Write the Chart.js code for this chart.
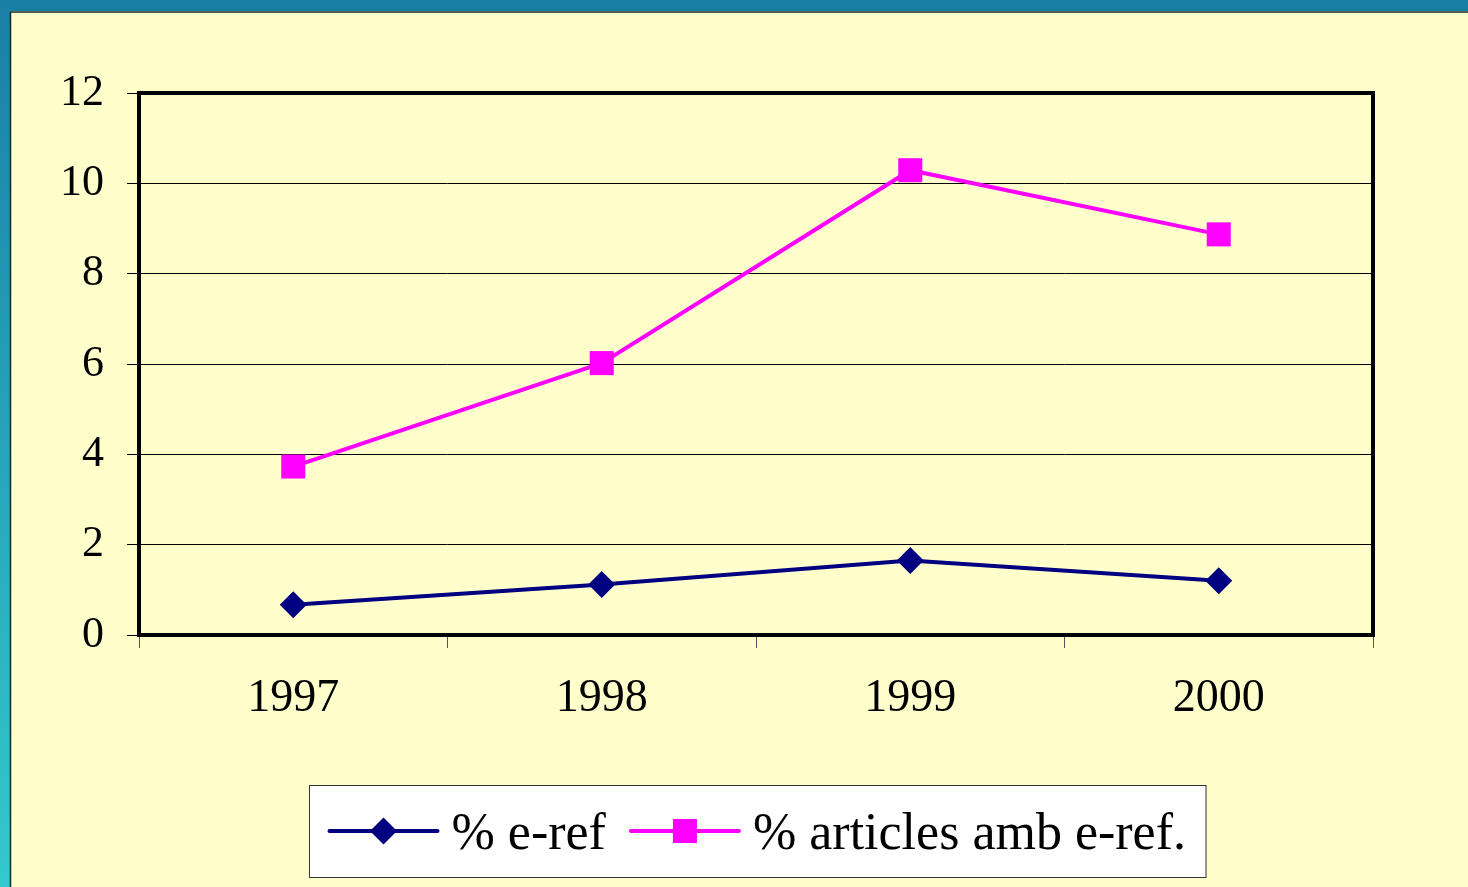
<!DOCTYPE html>
<html>
<head>
<meta charset="utf-8">
<title>% e-ref</title>
<script src="https://cdn.jsdelivr.net/npm/chart.js@4.4.1/dist/chart.umd.min.js"></script>
<style>
  html, body { margin: 0; padding: 0; background: #ffffcc; overflow: hidden; }
  canvas { display: block; }
</style>
</head>
<body>
<canvas id="eRefChart" width="1468" height="887"></canvas>
<script>
  // values
  const years = ['1997', '1998', '1999', '2000'];
  const eRef = [0.67, 1.12, 1.65, 1.20];
  const articlesERef = [3.73, 6.02, 10.29, 8.87];
  const yMin = 0, yMax = 12, yStep = 2;

  const serif = '"Liberation Serif", "Times New Roman", serif';

  // blue frame + yellow slide background
  const slideFrame = {
    id: 'slideFrame',
    beforeDraw(chart) {
      const ctx = chart.ctx;
      const w = chart.width, h = chart.height;
      ctx.save();
      ctx.fillStyle = '#ffffcc';
      ctx.fillRect(0, 0, w, h);
      ctx.fillStyle = '#1a7fa5';
      ctx.fillRect(0, 0, w, 11);
      const g = ctx.createLinearGradient(0, 0, 0, h);
      g.addColorStop(0, '#1a7fa5');
      g.addColorStop(1, '#33c9cc');
      ctx.fillStyle = g;
      ctx.fillRect(0, 0, 10, h);
      ctx.strokeStyle = '#16282e';
      ctx.lineWidth = 1.5;
      ctx.beginPath();
      ctx.moveTo(10.5, h);
      ctx.lineTo(10.5, 12);
      ctx.lineTo(w, 12);
      ctx.stroke();
      ctx.restore();
    }
  };

  // thick black plot border
  const plotBorder = {
    id: 'plotBorder',
    afterDatasetsDraw(chart) {
      const a = chart.chartArea;
      const ctx = chart.ctx;
      ctx.save();
      ctx.strokeStyle = '#000';
      ctx.lineWidth = 4;
      ctx.strokeRect(a.left, a.top, a.right - a.left, a.bottom - a.top);
      ctx.restore();
    }
  };

  // boxed legend with line + marker samples
  const boxLegend = {
    id: 'boxLegend',
    afterDraw(chart) {
      const ctx = chart.ctx;
      const sets = chart.data.datasets;
      const lineLen = 108, gapText = 14, gapItem = 25, pad = 20;
      const cy = 831;
      ctx.save();
      ctx.font = '52px ' + serif;
      let total = 0;
      sets.forEach((ds, i) => {
        total += lineLen + gapText + ctx.measureText(ds.label).width;
        if (i < sets.length - 1) total += gapItem;
      });
      const boxW = total + pad * 2;
      const boxX = Math.round(757 - boxW / 2) + 0.5;
      ctx.fillStyle = '#fff';
      ctx.fillRect(boxX, 785.5, boxW, 92);
      ctx.strokeStyle = '#333';
      ctx.lineWidth = 1;
      ctx.strokeRect(boxX, 785.5, boxW, 92);

      let x = boxX + pad;
      sets.forEach(ds => {
        ctx.strokeStyle = ds.borderColor;
        ctx.lineWidth = 4;
        ctx.lineCap = 'round';
        ctx.beginPath();
        ctx.moveTo(x, cy);
        ctx.lineTo(x + lineLen, cy);
        ctx.stroke();
        ctx.fillStyle = ds.pointBackgroundColor;
        ctx.beginPath();
        const r = ds.pointRadius;
        const mx = x + lineLen / 2;
        if (ds.pointStyle === 'rectRot') {
          ctx.moveTo(mx, cy - r);
          ctx.lineTo(mx + r, cy);
          ctx.lineTo(mx, cy + r);
          ctx.lineTo(mx - r, cy);
        } else {
          const s = r * Math.SQRT1_2;
          ctx.rect(mx - s, cy - s, 2 * s, 2 * s);
        }
        ctx.closePath();
        ctx.fill();
        ctx.fillStyle = '#000';
        ctx.textBaseline = 'alphabetic';
        ctx.textAlign = 'left';
        ctx.fillText(ds.label, x + lineLen + gapText, 849);
        x += lineLen + gapText + ctx.measureText(ds.label).width + gapItem;
      });
      ctx.restore();
    }
  };

  const config = {
    type: 'line',
    data: {
      labels: years,
      datasets: [
        {
          label: '% e-ref',
          data: eRef,
          borderColor: '#000080',
          backgroundColor: '#000080',
          pointBackgroundColor: '#000080',
          pointBorderColor: '#000080',
          borderWidth: 4,
          pointStyle: 'rectRot',
          pointRadius: 13.5,
          pointBorderWidth: 0,
          tension: 0
        },
        {
          label: '% articles amb e-ref.',
          data: articlesERef,
          borderColor: '#ff00ff',
          backgroundColor: '#ff00ff',
          pointBackgroundColor: '#ff00ff',
          pointBorderColor: '#ff00ff',
          borderWidth: 4,
          pointStyle: 'rect',
          pointRadius: 17,
          pointBorderWidth: 0,
          tension: 0
        }
      ]
    },
    options: {
      responsive: false,
      animation: false,
      devicePixelRatio: 1,
      layout: {
        padding: { left: 0, top: 93, right: 95, bottom: 152 }
      },
      plugins: {
        legend: { display: false },
        tooltip: { enabled: false }
      },
      scales: {
        x: {
          offset: true,
          grid: {
            offset: true,
            drawOnChartArea: false,
            drawTicks: true,
            tickLength: 13,
            color: '#555',
            lineWidth: 1
          },
          border: { display: false },
          ticks: {
            color: '#000',
            padding: 23,
            maxRotation: 0,
            font: { family: serif, size: 46 }
          },
          afterFit: (scale) => { scale.height = 100; }
        },
        y: {
          min: yMin,
          max: yMax,
          grid: {
            color: '#000',
            lineWidth: 1,
            tickLength: 12
          },
          border: { display: false },
          ticks: {
            stepSize: yStep,
            color: '#000',
            padding: 23,
            font: { family: serif, size: 44 }
          },
          afterFit: (scale) => { scale.width = 139; }
        }
      }
    },
    plugins: [slideFrame, plotBorder, boxLegend]
  };

  window.addEventListener('DOMContentLoaded', function() {
    const ctx = document.getElementById('eRefChart').getContext('2d');
    new Chart(ctx, config);
  });
</script>
</body>
</html>
